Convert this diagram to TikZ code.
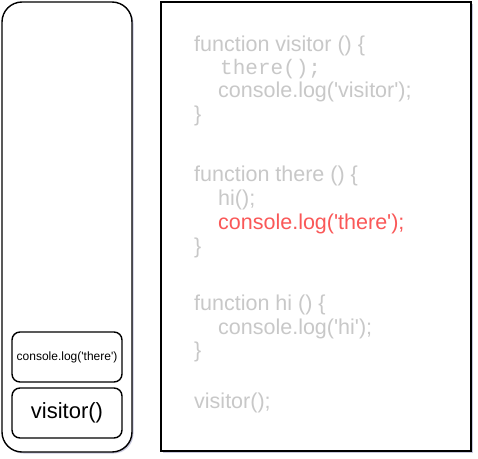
\documentclass[tikz,border=0pt]{standalone}
\usepackage{fontspec}
\setmainfont{Liberation Sans}
\setmonofont{Liberation Mono}
\usetikzlibrary{shadows}
\definecolor{codegray}{RGB}{200,200,200}
\definecolor{codered}{RGB}{250,88,88}
\definecolor{shadowc}{RGB}{175,175,205}
\newcommand{\q}{\textquotesingle}
\tikzset{
  frameshadow/.style={drop shadow={shadow xshift=1.5pt, shadow yshift=-1.5pt, fill=shadowc, opacity=0.7}},
  stackbox/.style={draw=black, line width=1.4pt, rounded corners=8pt, fill=white},
  code/.style={anchor=base west, inner sep=0pt, text=codegray, font=\fontsize{21.5}{24}\selectfont},
  monocode/.style={code, font=\ttfamily\fontsize{21}{24}\selectfont},
}
\begin{document}
\begin{tikzpicture}[x=1pt, y=-1pt]
\useasboundingbox (0,0) rectangle (478,458);
% call stack frame
\draw[line width=1.4pt, rounded corners=20pt, fill=white, frameshadow] (2,2) rectangle (132,452);
\node[stackbox, minimum width=110pt, minimum height=50pt, inner sep=0pt,
      font=\fontsize{12}{14}\selectfont] (frame2) at (67,357) {console.log(\q there\q)};
\node[stackbox, minimum width=110pt, minimum height=50pt, inner sep=0pt,
      font=\fontsize{22}{26}\selectfont] (frame1) at (67,413) {visitor()};
% code panel
\draw[line width=1.6pt, fill=white, frameshadow] (161,2) rectangle (471,451);
\node[code] (l1) at (194,51) {function visitor () \{};
\node[monocode] (l2) at (220,74) {there();};
\node[code] (l3) at (218,97) {console.log(\q visitor\q);};
\node[code] (l4) at (194,121) {\}};
\node[code] (l5) at (194,181) {function there () \{};
\node[code] (l6) at (218,205) {hi();};
\node[code, text=codered] (l7) at (218,229) {console.log(\q there\q);};
\node[code] (l8) at (194,253) {\}};
\node[code] (l9) at (194,310) {function hi () \{};
\node[code] (l10) at (218,334) {console.log(\q hi\q);};
\node[code] (l11) at (194,357) {\}};
\node[code] (l12) at (194,408) {visitor();};
\end{tikzpicture}
\end{document}
